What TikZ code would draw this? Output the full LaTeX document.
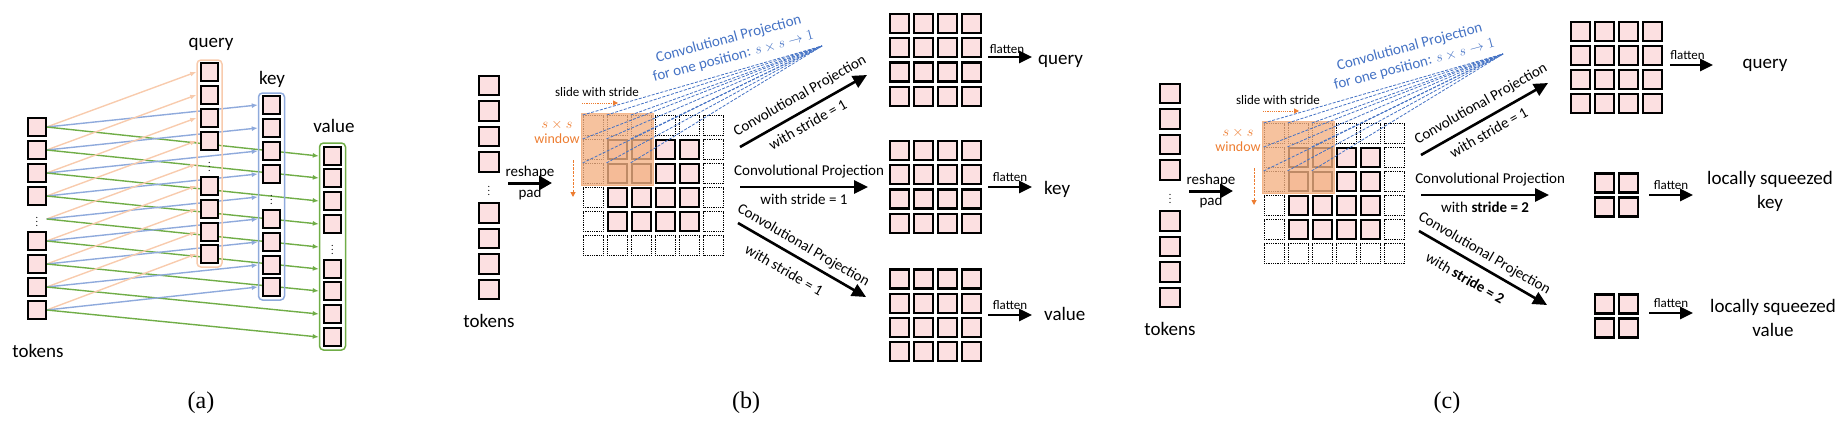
\documentclass[tikz,border=0pt]{standalone}
\usepackage{fontspec}
\setmainfont{Carlito}
\newfontfamily\capfont{Liberation Serif}
\usetikzlibrary{arrows.meta,backgrounds,fit}
\definecolor{pinkf}{RGB}{252,224,225}
\definecolor{orgL}{RGB}{248,203,173}
\definecolor{bluL}{RGB}{143,170,220}
\definecolor{grn}{RGB}{112,173,71}
\definecolor{org}{RGB}{237,125,49}
\definecolor{winf}{RGB}{244,177,131}
\definecolor{blu}{RGB}{68,114,196}
\begin{document}
\begin{tikzpicture}[x=1pt,y=-1pt,
  tokA/.style={draw=black,line width=1.8pt,fill=pinkf,minimum size=17.5pt,inner sep=0pt},
  tokB/.style={draw=black,line width=2pt,fill=pinkf,minimum size=19.5pt,inner sep=0pt},
  cellS/.style={draw=black,line width=2.2pt,fill=pinkf,minimum size=19pt,inner sep=0pt},
  cellD/.style={draw=black,line width=0.9pt,dash pattern=on 0.9pt off 0.9pt,minimum size=20pt,inner sep=0pt},
  frameA/.style={rounded corners=4pt,line width=1.5pt,minimum width=26pt,minimum height=207pt,inner sep=0pt},
  dotsn/.style={font=\fontsize{10}{12}\selectfont,inner sep=0pt},
  lbl/.style={font=\fontsize{19}{24}\selectfont,inner sep=1pt},
  midl/.style={font=\fontsize{15}{18}\selectfont,inner sep=2pt},
  sml/.style={font=\fontsize{13}{15}\selectfont,inner sep=1.5pt},
  capl/.style={font=\capfont\fontsize{24}{28}\selectfont,inner sep=0pt},
  aarr/.style={line width=1.4pt,-{Latex[length=6pt,width=5pt]}},
  projarr/.style={line width=2.6pt,-{Triangle[length=14pt,width=13pt]}},
  flarr/.style={line width=2.5pt,-{Triangle[length=13pt,width=12pt]}},
  rsarr/.style={line width=3pt,-{Triangle[length=13pt,width=14pt]}},
  win/.style={draw=winf,line width=1pt,fill=winf,fill opacity=0.78,draw opacity=0.9,inner sep=1.5pt},
  bdash/.style={draw=blu,line width=0.8pt,dash pattern=on 3pt off 1.5pt},
]
\useasboundingbox (0,0) rectangle (1847,426);

% ================= panel (a) =================
\foreach \i/\y in {1/127,2/150,3/173,4/196,6/241,7/264,8/287,9/310}
  \node[tokA] (at\i) at (37,\y) {};
\node[dotsn] (at5) at (37,219) {$\vdots$};

\node[frameA,draw=orgL,minimum width=25pt] (qf) at (209.5,163.5) {};
\foreach \i/\y in {1/72,2/95,3/118,4/141,6/186,7/209,8/232,9/254}
  \node[tokA] (q\i) at (209.5,\y) {};
\node[dotsn] (q5) at (209.5,164) {$\vdots$};

\node[frameA,draw=bluL] (kf) at (271.5,196.5) {};
\foreach \i/\y in {1/105,2/128,3/151,4/174,6/219,7/242,8/265,9/287}
  \node[tokA] (k\i) at (271.5,\y) {};
\node[dotsn] (k5) at (271.5,197) {$\vdots$};

\node[frameA,draw=grn] (vf) at (332.5,246.5) {};
\foreach \i/\y in {1/156,2/178,3/201,4/224,6/269,7/291,8/314,9/337}
  \node[tokA] (v\i) at (332.5,\y) {};
\node[dotsn] (v5) at (332.5,247) {$\vdots$};

\begin{scope}[on background layer]
\foreach \i in {1,...,9}{
  \draw[aarr,orgL] (at1.east |- at\i) -- (qf.west |- q\i);
  \draw[aarr,bluL] (at1.east |- at\i) -- (kf.west |- k\i);
  \draw[aarr,grn] (at1.east |- at\i) -- (vf.west |- v\i);
}
\end{scope}

\node[lbl] (lq) at (211,44) {query};
\node[lbl] (lk) at (272,79) {key};
\node[lbl] (lv) at (334,126) {value};
\node[lbl] (lt) at (38,351) {tokens};
\node[capl] (capa) at (201,403) {(a)};

% ================= panels (b) and (c), left part =================
\foreach \p/\dx/\dy/\sB in {b/0/0/{with stride = 1},c/681/8/{with \textbf{stride = 2}}}{
\begin{scope}[shift={(\dx,\dy)}]
  \foreach \i/\y in {1/85.5,2/111,3/136.5,4/162,6/213,7/238.5,8/264,9/289.5}
    \node[tokB] (\p t\i) at (489,\y) {};
  \node[dotsn] (\p t5) at (489,188) {$\vdots$};
  \node[lbl] (\p tl) at (489,321) {tokens};
  \coordinate (\p r1) at (508,183);
  \coordinate (\p r2) at (552,183);
  \draw[rsarr] (\p r1) -- node[midl,above=1pt]{reshape} node[midl,below=1pt]{pad} (\p r2);
  % grid
  \foreach \c in {1,...,6}{
    \foreach \r in {1,...,6}{
      \pgfmathsetmacro\gx{593+(\c-1)*24.1}
      \pgfmathsetmacro\gy{125.5+(\r-1)*24}
      \pgfmathtruncatemacro\isin{and(and(\c>1,\c<6),and(\r>1,\r<6))}
      \ifnum\isin=1
        \node[cellS] (\p g\c\r) at (\gx,\gy) {};
      \else
        \node[cellD] (\p g\c\r) at (\gx,\gy) {};
      \fi
    }
  }
  \node[win,fit=(\p g11)(\p g33)] (\p win) {};
  \coordinate (\p P) at (822,46);
  \foreach \c in {1,2,3}{
    \foreach \r in {1,2,3}{
      \draw[bdash] (\p g\c\r.north west) -- (\p P);
    }
  }
  \node[midl,text=blu,rotate=15,align=center] (\p bt) at (731,48)
    {Convolutional Projection\\for one position: $s\times s\to 1$};
  \node[sml] (\p sl) at (597,92) {slide with stride};
  \coordinate (\p s1) at (582,103);
  \coordinate (\p s2) at (618,103);
  \draw[org,line width=1pt,dash pattern=on 1.2pt off 1pt,-{Triangle[length=5pt,width=5pt]}] (\p s1) -- (\p s2);
  \node[midl,text=org,align=center,font=\fontsize{14}{15}\selectfont] (\p sw) at (557,132) {$s\times s$\\window};
  \coordinate (\p d1) at (573,160);
  \coordinate (\p d2) at (573,197);
  \draw[org,line width=1pt,dash pattern=on 2.5pt off 1.2pt,-{Triangle[length=5pt,width=5pt]}] (\p d1) -- (\p d2);
  % projection arrows
  \coordinate (\p a1) at (740,147);
  \coordinate (\p a2) at (867,75);
  \coordinate (\p b1) at (740,187);
  \coordinate (\p b2) at (868,187);
  \coordinate (\p c1) at (738,223);
  \coordinate (\p c2) at (866,297);
  \draw[projarr] (\p a1) -- node[midl,sloped,pos=0.53,above=5pt]{Convolutional Projection}
     node[midl,sloped,pos=0.48,below=5pt]{with stride = 1} (\p a2);
  \draw[projarr] (\p b1) -- node[midl,pos=0.54,above=6pt]{Convolutional Projection}
     node[midl,below=4pt]{\sB} (\p b2);
  \draw[projarr] (\p c1) -- node[midl,sloped,pos=0.46,above=3pt]{Convolutional Projection}
     node[midl,sloped,pos=0.43,below=9pt]{\sB} (\p c2);
\end{scope}
}

% ================= panel (b) outputs =================
\foreach \g/\yy in {q/23.5,k/150.5,v/279}{
  \foreach \c in {1,...,4}{
    \foreach \r in {1,...,4}{
      \node[cellS] (bo\g\c\r) at ({899.5+(\c-1)*24},{\yy+(\r-1)*24.2}) {};
    }
  }
}
\coordinate (bfq1) at (988,57);  \coordinate (bfq2) at (1032,57);
\coordinate (bfk1) at (988,187); \coordinate (bfk2) at (1032,187);
\coordinate (bfv1) at (988,315); \coordinate (bfv2) at (1032,315);
\draw[flarr] (bfq1) -- node[sml,above=1pt,xshift=-3pt]{flatten} (bfq2);
\draw[flarr] (bfk1) -- node[sml,above=3pt]{flatten} (bfk2);
\draw[flarr] (bfv1) -- node[sml,above=3pt]{flatten} (bfv2);
\node[lbl,anchor=west,inner sep=0pt] (boql) at (1038,61) {query};
\node[lbl,anchor=west,inner sep=0pt] (bokl) at (1044,189) {key};
\node[lbl,anchor=west,inner sep=0pt] (bovl) at (1044,314) {value};
\node[capl] (capb) at (746,403) {(b)};

% ================= panel (c) outputs =================
\foreach \c in {1,...,4}{
  \foreach \r in {1,...,4}{
    \node[cellS] (coq\c\r) at ({1580.5+(\c-1)*24},{31.5+(\r-1)*24}) {};
  }
}
\foreach \c in {1,2}{
  \foreach \r in {1,2}{
    \node[cellS] (cok\c\r) at ({1604.5+(\c-1)*24},{183+(\r-1)*24}) {};
    \node[cellS] (cov\c\r) at ({1604.5+(\c-1)*24},{304+(\r-1)*24}) {};
  }
}
\coordinate (cfq1) at (1670,65);  \coordinate (cfq2) at (1713,65);
\coordinate (cfk1) at (1649,195); \coordinate (cfk2) at (1693,195);
\coordinate (cfv1) at (1649,313); \coordinate (cfv2) at (1693,313);
\draw[flarr] (cfq1) -- node[sml,above=3pt,xshift=-4pt]{flatten} (cfq2);
\draw[flarr] (cfk1) -- node[sml,above=3pt]{flatten} (cfk2);
\draw[flarr] (cfv1) -- node[sml,above=3pt]{flatten} (cfv2);
\node[lbl] (coql) at (1765,65) {query};
\node[lbl,align=center] (cokl) at (1770,191) {locally squeezed\\key};
\node[lbl,align=center] (covl) at (1773,318) {locally squeezed\\value};
\node[capl] (capc) at (1447,403) {(c)};
\end{tikzpicture}
\end{document}
